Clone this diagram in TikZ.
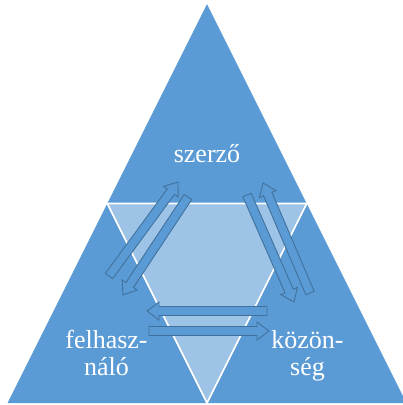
\documentclass[tikz,border=0pt]{standalone}
\usepackage{fontspec}
\setmainfont{Liberation Serif}
\usetikzlibrary{calc}
\definecolor{triblue}{HTML}{5B9BD5}
\definecolor{trilight}{HTML}{9DC3E6}
\definecolor{arrline}{HTML}{41719C}

\newcommand\blockarrow[2]{%
  \coordinate (hb) at ($(#2)!12pt!(#1)$);
  \draw[barr] ($(#1)!4.5pt!90:(#2)$) -- ($(hb)!4.5pt!90:(#2)$) -- ($(hb)!9pt!90:(#2)$)
    -- (#2) -- ($(hb)!9pt!-90:(#2)$) -- ($(hb)!4.5pt!-90:(#2)$) -- ($(#1)!4.5pt!-90:(#2)$) -- cycle;
}

\begin{document}
\begin{tikzpicture}[
  x=1pt, y=-1pt,
  tri/.style={fill=#1},
  tri/.default=triblue,
  sep/.style={draw=white, line width=1.6pt, fill=trilight},
  lbl/.style={text=white, align=center, inner sep=0pt, font=\fontsize{26}{27}\selectfont},
  barr/.style={draw=arrline, line width=0.9pt, fill=triblue, line join=miter}
]
\useasboundingbox (0,0) rectangle (403,405);
\clip (0,0) rectangle (403,405);

\coordinate (top) at (207,4);
\coordinate (bl) at (7.5,403);
\coordinate (br) at (406.5,403);
\fill[tri] (top) -- (bl) -- (br) -- cycle;
\draw[sep] ($(top)!0.5!(bl)$) -- ($(top)!0.5!(br)$) -- ($(bl)!0.5!(br)$) -- cycle;

\node[lbl, anchor=base] (aut) at (207,162) {szerző};
\node[lbl] (usr) at (106.5,353) {felhasz-\\náló};
\node[lbl] (pub) at (307.5,355.5) {közön-\\ség};

\coordinate (a1s) at (109,276);  \coordinate (a1e) at (178,182);
\coordinate (a2s) at (188,197);  \coordinate (a2e) at (123,295);
\coordinate (a3s) at (247,195);  \coordinate (a3e) at (294,302);
\coordinate (a4s) at (310,293);  \coordinate (a4e) at (263,183);
\coordinate (a5s) at (267,311);  \coordinate (a5e) at (147,311);
\coordinate (a6s) at (149,331);  \coordinate (a6e) at (269,331);

\blockarrow{a1s}{a1e}
\blockarrow{a2s}{a2e}
\blockarrow{a3s}{a3e}
\blockarrow{a4s}{a4e}
\blockarrow{a5s}{a5e}
\blockarrow{a6s}{a6e}
\end{tikzpicture}
\end{document}
